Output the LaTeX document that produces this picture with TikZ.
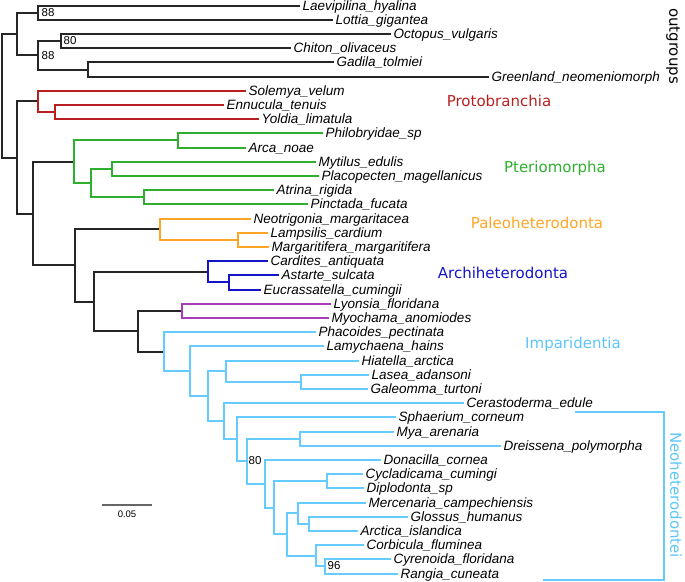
\documentclass[tikz,border=0pt]{standalone}
\usepackage{fontspec}
\setmainfont{Liberation Sans}
\newfontfamily\cladefam{DejaVu Sans}
\newcommand\myleaf{\fontsize{13.5}{14}\selectfont\itshape}
\newcommand\myclade{\cladefam\fontsize{15}{16}\selectfont}
\newcommand\myboot{\fontsize{11.5}{12}\selectfont}
\newcommand\myscale{\fontsize{9.5}{10}\selectfont}
\definecolor{protc}{HTML}{B82020}
\definecolor{pterc}{HTML}{2EB02E}
\definecolor{paleoc}{HTML}{FFA526}
\definecolor{archc}{HTML}{1414C8}
\definecolor{purpc}{HTML}{A83CB8}
\definecolor{impc}{HTML}{66CCFF}
\definecolor{impt}{HTML}{5CC6F6}
\begin{document}
\begin{tikzpicture}[x=1pt,y=-1pt,
  leaf/.style={anchor=west, inner xsep=3pt, inner ysep=0pt, font=\myleaf, text height=9.7pt, text depth=0pt},
  br/.style={line width=2pt},
  boot/.style={anchor=west, inner sep=0pt, font=\myboot},
  clade/.style={font=\myclade, inner sep=0pt}]
\useasboundingbox (0,0) rectangle (685,581);
% leaves
\node[leaf] (l0) at (299.5,5.5) {Laevipilina\_hyalina};
\node[leaf] (l1) at (332.5,19.5) {Lottia\_gigantea};
\node[leaf] (l2) at (390.5,33.5) {Octopus\_vulgaris};
\node[leaf] (l3) at (290.5,47.5) {Chiton\_olivaceus};
\node[leaf] (l4) at (333.5,61.5) {Gadila\_tolmiei};
\node[leaf] (l5) at (488.5,76.5) {Greenland\_neomeniomorph};
\node[leaf] (l6) at (245.5,90.5) {Solemya\_velum};
\node[leaf] (l7) at (223.5,104.5) {Ennucula\_tenuis};
\node[leaf] (l8) at (258.5,118.5) {Yoldia\_limatula};
\node[leaf] (l9) at (322.5,132.5) {Philobryidae\_sp};
\node[leaf] (l10) at (245.5,147.5) {Arca\_noae};
\node[leaf] (l11) at (315.5,161.5) {Mytilus\_edulis};
\node[leaf] (l12) at (318.5,175.5) {Placopecten\_magellanicus};
\node[leaf] (l13) at (273.5,189.5) {Atrina\_rigida};
\node[leaf] (l14) at (307.5,203.5) {Pinctada\_fucata};
\node[leaf] (l15) at (250.5,218.5) {Neotrigonia\_margaritacea};
\node[leaf] (l16) at (267.5,232.5) {Lampsilis\_cardium};
\node[leaf] (l17) at (268.5,246.5) {Margaritifera\_margaritifera};
\node[leaf] (l18) at (267.5,260.5) {Cardites\_antiquata};
\node[leaf] (l19) at (278.5,274.5) {Astarte\_sulcata};
\node[leaf] (l20) at (260.5,289.5) {Eucrassatella\_cumingii};
\node[leaf] (l21) at (330.5,303.5) {Lyonsia\_floridana};
\node[leaf] (l22) at (328.5,317.5) {Myochama\_anomiodes};
\node[leaf] (l23) at (315.5,331.5) {Phacoides\_pectinata};
\node[leaf] (l24) at (323.5,345.5) {Lamychaena\_hains};
\node[leaf] (l25) at (358.5,360.5) {Hiatella\_arctica};
\node[leaf] (l26) at (368.5,374.5) {Lasea\_adansoni};
\node[leaf] (l27) at (367.5,388.5) {Galeomma\_turtoni};
\node[leaf] (l28) at (463.5,402.5) {Cerastoderma\_edule};
\node[leaf] (l29) at (395.5,416.5) {Sphaerium\_corneum};
\node[leaf] (l30) at (393.5,431.5) {Mya\_arenaria};
\node[leaf] (l31) at (500.5,445.5) {Dreissena\_polymorpha};
\node[leaf] (l32) at (380.5,459.5) {Donacilla\_cornea};
\node[leaf] (l33) at (362.5,473.5) {Cycladicama\_cumingi};
\node[leaf] (l34) at (363.5,487.5) {Diplodonta\_sp};
\node[leaf] (l35) at (365.5,502.5) {Mercenaria\_campechiensis};
\node[leaf] (l36) at (407.5,516.5) {Glossus\_humanus};
\node[leaf] (l37) at (357.5,530.5) {Arctica\_islandica};
\node[leaf] (l38) at (363.5,544.5) {Corbicula\_fluminea};
\node[leaf] (l39) at (390.5,558.5) {Cyrenoida\_floridana};
\node[leaf] (l40) at (397.5,573.5) {Rangia\_cuneata};
% internal nodes
\coordinate (Root) at (1.5,95.5);
\coordinate (OG) at (16.5,33.5);
\coordinate (A) at (37.5,12.5);
\coordinate (B) at (37.5,54.5);
\coordinate (C) at (60.5,40.5);
\coordinate (D) at (87.5,69.5);
\coordinate (E) at (16.5,157.5);
\coordinate (Prot) at (37.5,100.5);
\coordinate (Nuc) at (54.5,111.5);
\coordinate (F) at (32.5,213.5);
\coordinate (Pter) at (73.5,161.5);
\coordinate (PA) at (177.5,139.5);
\coordinate (MPAP) at (90.5,182.5);
\coordinate (MP) at (111.5,168.5);
\coordinate (AP) at (143.5,196.5);
\coordinate (G) at (74.5,264.5);
\coordinate (Paleo) at (159.5,228.5);
\coordinate (LM) at (237.5,239.5);
\coordinate (H) at (93.5,301.5);
\coordinate (Archi) at (207.5,271.5);
\coordinate (AE) at (228.5,281.5);
\coordinate (I) at (137.5,330.5);
\coordinate (LyMy) at (181.5,310.5);
\coordinate (J) at (163.5,351.5);
\coordinate (K) at (189.5,370.5);
\coordinate (L) at (207.5,395.5);
\coordinate (M) at (225.5,370.5);
\coordinate (LG) at (300.5,381.5);
\coordinate (N) at (223.5,420.5);
\coordinate (O) at (236.5,438.5);
\coordinate (P) at (246.5,460.5);
\coordinate (MD) at (299.5,438.5);
\coordinate (Q) at (264.5,483.5);
\coordinate (R) at (273.5,507.5);
\coordinate (CD) at (326.5,480.5);
\coordinate (S) at (286.5,533.5);
\coordinate (T) at (297.5,512.5);
\coordinate (GA) at (308.5,523.5);
\coordinate (U) at (315.5,555.5);
\coordinate (V) at (324.5,565.5);
% black branches
\begin{scope}[br, black!85]
\draw (Root) |- (OG); \draw (Root) |- (E);
\draw (OG) |- (A); \draw (OG) |- (B);
\draw (A) |- (l0.west); \draw (A) |- (l1.west);
\draw (B) |- (C); \draw (B) |- (D);
\draw (C) |- (l2.west); \draw (C) |- (l3.west);
\draw (D) |- (l4.west); \draw (D) |- (l5.west);
\draw (E) |- (Prot); \draw (E) |- (F);
\draw (F) |- (Pter); \draw (F) |- (G);
\draw (G) |- (Paleo); \draw (G) |- (H);
\draw (H) |- (Archi); \draw (H) |- (I);
\draw (I) |- (LyMy); \draw (I) |- (J);
\end{scope}
\begin{scope}[br, protc]
\draw (Prot) |- (l6.west); \draw (Prot) |- (Nuc);
\draw (Nuc) |- (l7.west); \draw (Nuc) |- (l8.west);
\end{scope}
\begin{scope}[br, pterc]
\draw (Pter) |- (PA); \draw (Pter) |- (MPAP);
\draw (PA) |- (l9.west); \draw (PA) |- (l10.west);
\draw (MPAP) |- (MP); \draw (MPAP) |- (AP);
\draw (MP) |- (l11.west); \draw (MP) |- (l12.west);
\draw (AP) |- (l13.west); \draw (AP) |- (l14.west);
\end{scope}
\begin{scope}[br, paleoc]
\draw (Paleo) |- (l15.west); \draw (Paleo) |- (LM);
\draw (LM) |- (l16.west); \draw (LM) |- (l17.west);
\end{scope}
\begin{scope}[br, archc]
\draw (Archi) |- (l18.west); \draw (Archi) |- (AE);
\draw (AE) |- (l19.west); \draw (AE) |- (l20.west);
\end{scope}
\begin{scope}[br, purpc]
\draw (LyMy) |- (l21.west); \draw (LyMy) |- (l22.west);
\end{scope}
\begin{scope}[br, impc]
\draw (J) |- (l23.west); \draw (J) |- (K);
\draw (K) |- (l24.west); \draw (K) |- (L);
\draw (L) |- (M); \draw (L) |- (N);
\draw (M) |- (l25.west); \draw (M) |- (LG);
\draw (LG) |- (l26.west); \draw (LG) |- (l27.west);
\draw (N) |- (l28.west); \draw (N) |- (O);
\draw (O) |- (l29.west); \draw (O) |- (P);
\draw (P) |- (MD); \draw (P) |- (Q);
\draw (MD) |- (l30.west); \draw (MD) |- (l31.west);
\draw (Q) |- (l32.west); \draw (Q) |- (R);
\draw (R) |- (CD); \draw (R) |- (S);
\draw (CD) |- (l33.west); \draw (CD) |- (l34.west);
\draw (S) |- (T); \draw (S) |- (U);
\draw (T) |- (l35.west); \draw (T) |- (GA);
\draw (GA) |- (l36.west); \draw (GA) |- (l37.west);
\draw (U) |- (l38.west); \draw (U) |- (V);
\draw (V) |- (l39.west); \draw (V) |- (l40.west);
\end{scope}
% bootstrap labels
\node[boot] (bA) at ([xshift=4pt]A) {88};
\node[boot] (bB) at ([xshift=4pt,yshift=-1pt]B) {88};
\node[boot] (bC) at ([xshift=3pt]C) {80};
\node[boot] (bP) at ([xshift=2pt]P) {80};
\node[boot] (bV) at ([xshift=3pt]V) {96};
% clade labels
\node[clade, text=protc] (tProt) at (499,101) {Protobranchia};
\node[clade, text=pterc] (tPter) at (555,168) {Pteriomorpha};
\node[clade, text=paleoc] (tPaleo) at (537,223) {Paleoheterodonta};
\node[clade, text=archc] (tArchi) at (503,273) {Archiheterodonta};
\node[clade, text=impt] (tImp) at (573,344) {Imparidentia};
\node[clade, text=black, rotate=-90] (tOut) at (673,46) {outgroups};
\node[clade, text=impt, rotate=-90] (tNeo) at (676,495) {Neoheterodontei};
% Neoheterodontei bracket
\coordinate (nb1) at (575,411.5);
\coordinate (nb2) at (663.5,411.5);
\coordinate (nb3) at (663.5,579.5);
\coordinate (nb4) at (543,579.5);
\draw[br, impc] (nb1) -- (nb2) -- (nb3) -- (nb4);
% scale bar
\coordinate (sb1) at (102,504.5);
\coordinate (sb2) at (152,504.5);
\draw[line width=2pt, black!60] (sb1) -- (sb2);
\node[font=\myscale, inner sep=0pt] (sbl) at (127,514) {0.05};
\end{tikzpicture}
\end{document}
